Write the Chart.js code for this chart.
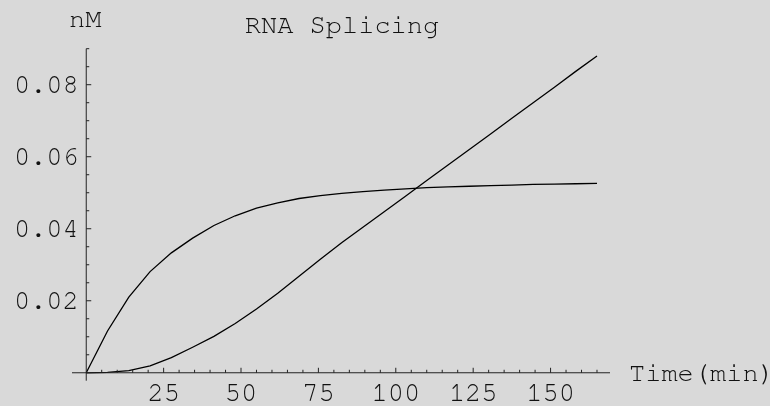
<!DOCTYPE html>
<html>
<head>
<meta charset="utf-8">
<script src="https://cdn.jsdelivr.net/npm/chart.js@4.4.1/dist/chart.umd.min.js"></script>
<style>
  html, body { margin: 0; padding: 0; background: #d9d9d9; }
  #wrap { width: 770px; height: 406px; }
</style>
</head>
<body>
<div id="wrap"><canvas id="c" width="770" height="406"></canvas></div>
<script>
// ---- data ----
const times = [0, 6.875, 13.75, 20.625, 27.5, 34.375, 41.25, 48.125, 55, 61.875, 68.75, 75.625,
               82.5, 89.375, 96.25, 103.125, 110, 116.875, 123.75, 130.625, 137.5, 144.375, 151.25, 158.125, 165];
const seriesA = [0, 0.0116, 0.0210, 0.0281, 0.0333, 0.0374, 0.0409, 0.0436, 0.0457, 0.0472, 0.0484, 0.0492,
                 0.0498, 0.0503, 0.0507, 0.0511, 0.0514, 0.0516, 0.0518, 0.0520, 0.0521, 0.0523, 0.0524, 0.0525, 0.0526];
const seriesB = [0, 0.0001, 0.0006, 0.0019, 0.0042, 0.0071, 0.0101, 0.0137, 0.0177, 0.0221, 0.0268, 0.0315,
                 0.0361, 0.0404, 0.0447, 0.0490, 0.0534, 0.0577, 0.0620, 0.0663, 0.0707, 0.0750, 0.0793, 0.0837, 0.0880];
const xTickLabels = [25, 50, 75, 100, 125, 150];
const yTickLabels = [0.02, 0.04, 0.06, 0.08];
const xMinorStep = 5, xMinorMax = 165;
const yMinorStep = 0.005, yMinorMax = 0.09;
const titleText = "RNA Splicing";
const xAxisTitle = "Time(min)";
const yAxisTitle = "nM";

const FONT = '27px "Nimbus Mono PS", "FreeMono", "Liberation Mono", "DejaVu Sans Mono", monospace';

const axesPlugin = {
  id: 'mathAxes',
  afterDatasetsDraw(chart) {
    const ctx = chart.ctx;
    const xs = chart.scales.x, ys = chart.scales.y;
    const x0 = xs.getPixelForValue(0), y0 = ys.getPixelForValue(0);
    ctx.save();
    ctx.strokeStyle = '#222';
    ctx.lineWidth = 1;
    // axis lines
    ctx.beginPath();
    ctx.moveTo(xs.left, y0); ctx.lineTo(xs.right, y0);
    ctx.moveTo(x0, ys.top); ctx.lineTo(x0, ys.bottom);
    ctx.stroke();
    // x ticks
    ctx.beginPath();
    for (let v = xMinorStep; v <= xMinorMax + 1e-9; v += xMinorStep) {
      const px = xs.getPixelForValue(v);
      const major = xTickLabels.some(t => Math.abs(t - v) < 1e-6);
      ctx.moveTo(px, y0); ctx.lineTo(px, y0 - (major ? 5 : 3));
    }
    // y ticks
    for (let i = 1; i * yMinorStep <= yMinorMax + 1e-9; i++) {
      const v = i * yMinorStep;
      const py = ys.getPixelForValue(v);
      const major = yTickLabels.some(t => Math.abs(t - v) < 1e-9);
      ctx.moveTo(x0, py); ctx.lineTo(x0 + (major ? 5 : 3), py);
    }
    ctx.stroke();
    // labels
    ctx.fillStyle = '#111';
    ctx.font = FONT;
    ctx.textBaseline = 'alphabetic';
    ctx.textAlign = 'center';
    xTickLabels.forEach(v => ctx.fillText(String(v), xs.getPixelForValue(v), y0 + 28.5));
    ctx.textAlign = 'right';
    yTickLabels.forEach(v => ctx.fillText(v.toFixed(2), x0 - 7.5, ys.getPixelForValue(v) + 8));
    ctx.textAlign = 'left';
    ctx.fillText(xAxisTitle, 629, y0 + 8);
    ctx.textAlign = 'center';
    ctx.fillText(yAxisTitle, x0 - 1, 26.5);
    ctx.fillText(titleText, 342, 32.5);
    ctx.restore();
  }
};

const pts = arr => times.map((t, i) => ({x: t, y: arr[i]}));

new Chart(document.getElementById('c'), {
  type: 'line',
  data: {
    datasets: [
      { data: pts(seriesA), borderColor: '#000', borderWidth: 1.3, pointRadius: 0, tension: 0, fill: false },
      { data: pts(seriesB), borderColor: '#000', borderWidth: 1.3, pointRadius: 0, tension: 0, fill: false }
    ]
  },
  options: {
    responsive: false,
    animation: false,
    events: [],
    layout: { padding: { left: 72, right: 160, top: 48.7, bottom: 25.3 } },
    plugins: { legend: { display: false }, title: { display: false }, tooltip: { enabled: false } },
    scales: {
      x: { type: 'linear', min: -4.6, max: 169.2, display: false },
      y: { type: 'linear', min: -0.0022, max: 0.09, display: false }
    }
  },
  plugins: [axesPlugin]
});
</script>
</body>
</html>
